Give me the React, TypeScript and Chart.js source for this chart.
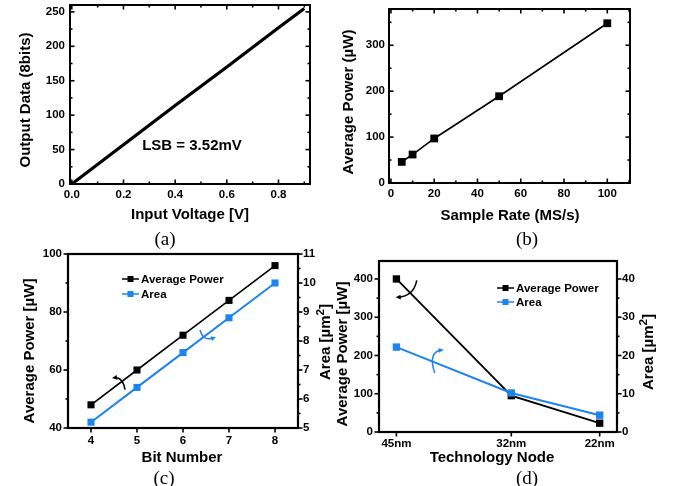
import React, { useEffect, useRef } from 'react';
import { Chart, registerables } from 'chart.js';

Chart.register(...registerables);

// ---------- (a) transfer curve ----------
const inputVoltage = [0, 0.2, 0.4, 0.6, 0.8, 0.9];
const outputCode = [0, 57, 114, 170, 227, 255];
const aXTicks = [0, 0.2, 0.4, 0.6, 0.8];
const aXMinor = [0.1, 0.3, 0.5, 0.7, 0.9];
const aYTicks = [0, 50, 100, 150, 200, 250];
const aYMinor = [25, 75, 125, 175, 225];

// ---------- (b) power vs sample rate ----------
const sampleRate = [5, 10, 20, 50, 100];
const powerVsRate = [46, 62, 97, 189, 348];
const bXTicks = [0, 20, 40, 60, 80, 100];
const bXMinor = [10, 30, 50, 70, 90, 110];
const bYTicks = [0, 100, 200, 300];
const bYMinor = [50, 150, 250, 350];

// ---------- (c) bit number ----------
const bitNumber = [4, 5, 6, 7, 8];
const powerVsBits = [48, 60, 72, 84, 96];
const areaVsBits = [5.2, 6.4, 7.6, 8.8, 10.0];
const cXTicks = [4, 5, 6, 7, 8];
const cYTicks = [40, 60, 80, 100];
const cYMinor = [50, 70, 90];
const cY1Ticks = [5, 6, 7, 8, 9, 10, 11];
const cY1Minor = [5.5, 6.5, 7.5, 8.5, 9.5, 10.5];

// ---------- (d) technology node ----------
const techNodeNm = [45, 32, 22];
const techNodeLabels = ['45nm', '32nm', '22nm'];
const powerVsNode = [400, 95, 23];
const areaVsNode = [22.2, 10.2, 4.4];
const dYTicks = [0, 100, 200, 300, 400];
const dYMinor = [50, 150, 250, 350];
const dY1Ticks = [0, 10, 20, 30, 40];
const dY1Minor = [5, 15, 25, 35];

const W = 675;
const H = 486;
const SANS = '"Liberation Sans", Arial, sans-serif';
const SERIF = '"Liberation Serif", "Times New Roman", serif';
const BLUE = 'rgb(28,132,236)';
const TICK_FONT = 11.5;
const TITLE_FONT = 15;
const YW = 45; // reserved width of a vertical scale box
const XH = 30; // reserved height of a horizontal scale box

function axis(o: any) {
  return {
    type: 'linear',
    position: o.pos,
    min: o.min,
    max: o.max,
    reverse: !!o.reverse,
    grid: { display: false, drawTicks: false },
    border: { display: false },
    title: { display: false },
    ticks: {
      autoSkip: false,
      maxRotation: 0,
      minRotation: 0,
      padding: o.padding,
      color: '#000',
      font: { family: SANS, size: TICK_FONT, weight: 'bold' },
      callback: (v: number) => (o.fmt ? o.fmt(v) : String(v)),
    },
    afterBuildTicks: (s: any) => {
      s.ticks = o.ticks.map((v: number) => ({ value: v }));
    },
    afterFit: (s: any) => {
      if (s.isHorizontal()) s.height = XH;
      else s.width = YW;
      s.paddingLeft = 0;
      s.paddingRight = 0;
      s.paddingTop = 0;
      s.paddingBottom = 0;
    },
  };
}

function drawRich(ctx: CanvasRenderingContext2D, parts: any[], x: number, y: number, rot: number, size: number, family = SANS, weight = 'bold') {
  ctx.save();
  ctx.translate(x, y);
  ctx.rotate(rot);
  const main = `${weight} ${size}px ${family}`;
  const sup = `${weight} ${size * 0.78}px ${family}`;
  let total = 0;
  const widths = parts.map((p) => {
    ctx.font = p.sup ? sup : main;
    const w = ctx.measureText(p.t).width;
    total += w;
    return w;
  });
  ctx.fillStyle = '#000';
  ctx.textAlign = 'left';
  ctx.textBaseline = 'alphabetic';
  let cx = -total / 2;
  const base = size * 0.36;
  parts.forEach((p, i) => {
    ctx.font = p.sup ? sup : main;
    ctx.fillText(p.t, cx, p.sup ? base - size * 0.45 : base);
    cx += widths[i];
  });
  ctx.restore();
}

const decorPlugin = {
  id: 'decor',
  afterDraw(chart: any, _args: any, opts: any) {
    const ctx: CanvasRenderingContext2D = chart.ctx;
    const a = chart.chartArea;
    ctx.save();
    // frame
    ctx.strokeStyle = '#000';
    ctx.lineWidth = opts.frameWidth || 2;
    ctx.lineCap = 'butt';
    ctx.strokeRect(a.left, a.top, a.right - a.left, a.bottom - a.top);
    // ticks
    (opts.tickSets || []).forEach((ts: any) => {
      const sc = chart.scales[ts.scale];
      const sign = ts.dir === 'in' ? 1 : -1;
      ctx.lineWidth = 1.6;
      const draw = (v: number, len: number) => {
        const p = sc.getPixelForValue(v);
        ctx.beginPath();
        if (ts.side === 'bottom') {
          ctx.moveTo(p, a.bottom);
          ctx.lineTo(p, a.bottom - sign * len);
        } else if (ts.side === 'top') {
          ctx.moveTo(p, a.top);
          ctx.lineTo(p, a.top + sign * len);
        } else if (ts.side === 'left') {
          ctx.moveTo(a.left, p);
          ctx.lineTo(a.left + sign * len, p);
        } else {
          ctx.moveTo(a.right, p);
          ctx.lineTo(a.right - sign * len, p);
        }
        ctx.stroke();
      };
      ts.major.forEach((v: number) => draw(v, 4.5));
      (ts.minor || []).forEach((v: number) => draw(v, 2.5));
    });
    // arrows (data coords)
    (opts.arrows || []).forEach((ar: any) => {
      const xs = chart.scales.x;
      const ys = chart.scales[ar.yScale || 'y'];
      const pts = ar.pts.map((p: number[]) => [xs.getPixelForValue(p[0]), ys.getPixelForValue(p[1])]);
      ctx.strokeStyle = ar.color;
      ctx.fillStyle = ar.color;
      ctx.lineWidth = 1.5;
      ctx.beginPath();
      ctx.moveTo(pts[0][0], pts[0][1]);
      ctx.quadraticCurveTo(pts[1][0], pts[1][1], pts[2][0], pts[2][1]);
      ctx.stroke();
      const ang = Math.atan2(pts[2][1] - pts[1][1], pts[2][0] - pts[1][0]);
      const L = 5.5;
      const tipX = pts[2][0] + Math.cos(ang) * 2;
      const tipY = pts[2][1] + Math.sin(ang) * 2;
      ctx.beginPath();
      ctx.moveTo(tipX, tipY);
      ctx.lineTo(tipX - L * Math.cos(ang - 0.45), tipY - L * Math.sin(ang - 0.45));
      ctx.lineTo(tipX - L * Math.cos(ang + 0.45), tipY - L * Math.sin(ang + 0.45));
      ctx.closePath();
      ctx.fill();
    });
    // legend
    (opts.legend || []).forEach((lg: any) => {
      ctx.strokeStyle = lg.color;
      ctx.fillStyle = lg.color;
      ctx.lineWidth = 1.5;
      ctx.beginPath();
      ctx.moveTo(lg.x, lg.y);
      ctx.lineTo(lg.x + 17, lg.y);
      ctx.stroke();
      ctx.fillRect(lg.x + 5.5, lg.y - 3, 6, 6);
      ctx.fillStyle = '#000';
      ctx.font = `bold 11.5px ${SANS}`;
      ctx.textAlign = 'left';
      ctx.textBaseline = 'middle';
      ctx.fillText(lg.label, lg.x + 19, lg.y + 0.5);
    });
    // titles
    (opts.titles || []).forEach((t: any) => {
      drawRich(ctx, t.parts, t.x, t.y, t.rot || 0, t.size || TITLE_FONT, t.family || SANS, t.weight || 'bold');
    });
    ctx.restore();
  },
};

function baseOptions(area: any, scales: any, decor: any, hasRight = false) {
  return {
    responsive: false,
    animation: false,
    events: [],
    layout: {
      padding: {
        left: area.l - YW,
        top: area.t,
        right: W - area.r - (hasRight ? YW : 0),
        bottom: H - area.b - XH,
      },
    },
    plugins: {
      legend: { display: false },
      tooltip: { enabled: false },
      title: { display: false },
      decor,
    },
    scales,
  };
}

const pts = (xs: number[], ys: number[]) => xs.map((x, i) => ({ x, y: ys[i] }));
const NEG90 = -Math.PI / 2;

function configA(): any {
  return {
    type: 'line',
    data: {
      datasets: [
        {
          data: pts(inputVoltage, outputCode),
          borderColor: '#000',
          borderWidth: 3.2,
          pointRadius: 0,
          tension: 0,
        },
      ],
    },
    options: baseOptions(
      { l: 70, t: 5, r: 310, b: 184 },
      {
        x: axis({ pos: 'bottom', min: -0.007, max: 0.922, ticks: aXTicks, padding: 4, fmt: (v: number) => v.toFixed(1) }),
        y: axis({ pos: 'left', min: 0, max: 260, ticks: aYTicks, padding: 5 }),
      },
      {
        frameWidth: 2,
        tickSets: [
          { scale: 'x', side: 'bottom', dir: 'in', major: aXTicks, minor: aXMinor },
          { scale: 'x', side: 'top', dir: 'in', major: aXTicks, minor: aXMinor },
          { scale: 'y', side: 'left', dir: 'in', major: aYTicks, minor: aYMinor },
          { scale: 'y', side: 'right', dir: 'in', major: aYTicks, minor: aYMinor },
        ],
        titles: [
          { parts: [{ t: 'Input Voltage [V]' }], x: 190, y: 214 },
          { parts: [{ t: 'Output Data (8bits)' }], x: 25, y: 100, rot: NEG90 },
          { parts: [{ t: 'LSB = 3.52mV' }], x: 192, y: 145 },
          { parts: [{ t: '(a)' }], x: 165, y: 238, size: 19, family: SERIF, weight: 'normal' },
        ],
      }
    ),
  };
}

function configB(): any {
  return {
    type: 'line',
    data: {
      datasets: [
        {
          data: pts(sampleRate, powerVsRate),
          borderColor: '#000',
          backgroundColor: '#000',
          borderWidth: 1.6,
          pointStyle: 'rect',
          pointRadius: 5.5,
          pointBorderWidth: 0,
          tension: 0,
        },
      ],
    },
    options: baseOptions(
      { l: 389, t: 9, r: 630, b: 183 },
      {
        x: axis({ pos: 'bottom', min: -0.9, max: 110.5, ticks: bXTicks, padding: 4 }),
        y: axis({ pos: 'left', min: 0, max: 379, ticks: bYTicks, padding: 4 }),
      },
      {
        frameWidth: 2,
        tickSets: [
          { scale: 'x', side: 'bottom', dir: 'in', major: bXTicks, minor: bXMinor },
          { scale: 'x', side: 'top', dir: 'in', major: bXTicks, minor: bXMinor },
          { scale: 'y', side: 'left', dir: 'in', major: bYTicks, minor: bYMinor },
          { scale: 'y', side: 'right', dir: 'in', major: bYTicks, minor: bYMinor },
        ],
        titles: [
          { parts: [{ t: 'Sample Rate (MS/s)' }], x: 510, y: 215 },
          { parts: [{ t: 'Average Power (µW)' }], x: 348, y: 102, rot: NEG90 },
          { parts: [{ t: '(b)' }], x: 527, y: 238, size: 19, family: SERIF, weight: 'normal' },
        ],
      }
    ),
  };
}

function configC(): any {
  return {
    type: 'line',
    data: {
      datasets: [
        {
          label: 'Average Power',
          data: pts(bitNumber, powerVsBits),
          yAxisID: 'y',
          borderColor: '#000',
          backgroundColor: '#000',
          borderWidth: 1.6,
          pointStyle: 'rect',
          pointRadius: 5,
          pointBorderWidth: 0,
          tension: 0,
          order: 1,
        },
        {
          label: 'Area',
          data: pts(bitNumber, areaVsBits),
          yAxisID: 'y1',
          borderColor: BLUE,
          backgroundColor: BLUE,
          borderWidth: 2,
          pointStyle: 'rect',
          pointRadius: 5,
          pointBorderWidth: 0,
          tension: 0,
          order: 0,
        },
      ],
    },
    options: baseOptions(
      { l: 68, t: 254, r: 298, b: 428 },
      {
        x: axis({ pos: 'bottom', min: 3.5, max: 8.5, ticks: cXTicks, padding: 6 }),
        y: axis({ pos: 'left', min: 40, max: 100, ticks: cYTicks, padding: 6 }),
        y1: axis({ pos: 'right', min: 5, max: 11, ticks: cY1Ticks, padding: 5 }),
      },
      {
        frameWidth: 2.2,
        tickSets: [
          { scale: 'x', side: 'bottom', dir: 'out', major: cXTicks },
          { scale: 'y', side: 'left', dir: 'out', major: cYTicks, minor: cYMinor },
          { scale: 'y1', side: 'right', dir: 'out', major: cY1Ticks, minor: cY1Minor },
        ],
        arrows: [
          { color: '#000', yScale: 'y', pts: [[4.739, 53.2], [4.696, 57.7], [4.5, 57.3]] },
          { color: BLUE, yScale: 'y', pts: [[6.37, 73.8], [6.435, 69.7], [6.674, 71.1]] },
        ],
        legend: [
          { label: 'Average Power', color: '#000', x: 122, y: 279 },
          { label: 'Area', color: BLUE, x: 122, y: 294 },
        ],
        titles: [
          { parts: [{ t: 'Bit Number' }], x: 182, y: 457 },
          { parts: [{ t: 'Average Power [µW]' }], x: 29, y: 351, rot: NEG90 },
          { parts: [{ t: 'Area [µm' }, { t: '2', sup: true }, { t: ']' }], x: 325, y: 342, rot: NEG90 },
          { parts: [{ t: '(c)' }], x: 164, y: 477, size: 19, family: SERIF, weight: 'normal' },
        ],
      },
      true
    ),
  };
}

function configD(): any {
  return {
    type: 'line',
    data: {
      datasets: [
        {
          label: 'Average Power',
          data: pts(techNodeNm, powerVsNode),
          yAxisID: 'y',
          borderColor: '#000',
          backgroundColor: '#000',
          borderWidth: 1.8,
          pointStyle: 'rect',
          pointRadius: 5.2,
          pointBorderWidth: 0,
          tension: 0,
          order: 1,
        },
        {
          label: 'Area',
          data: pts(techNodeNm, areaVsNode),
          yAxisID: 'y1',
          borderColor: BLUE,
          backgroundColor: BLUE,
          borderWidth: 2,
          pointStyle: 'rect',
          pointRadius: 5.2,
          pointBorderWidth: 0,
          tension: 0,
          order: 0,
        },
      ],
    },
    options: baseOptions(
      { l: 379, t: 261, r: 617, b: 432 },
      {
        x: axis({
          pos: 'bottom',
          min: 20.04,
          max: 46.97,
          reverse: true,
          ticks: techNodeNm,
          padding: 5,
          fmt: (v: number) => techNodeLabels[techNodeNm.indexOf(v)] ?? `${v}nm`,
        }),
        y: axis({ pos: 'left', min: 0, max: 447, ticks: dYTicks, padding: 6 }),
        y1: axis({ pos: 'right', min: 0, max: 44.7, ticks: dY1Ticks, padding: 5 }),
      },
      {
        frameWidth: 2.2,
        tickSets: [
          { scale: 'x', side: 'bottom', dir: 'out', major: techNodeNm },
          { scale: 'y', side: 'left', dir: 'out', major: dYTicks, minor: dYMinor },
          { scale: 'y1', side: 'right', dir: 'out', major: dY1Ticks, minor: dY1Minor },
        ],
        arrows: [
          { color: '#000', yScale: 'y', pts: [[42.7, 396.6], [43.04, 354.9], [44.85, 352.3]] },
          { color: BLUE, yScale: 'y', pts: [[40.67, 154.4], [41.46, 209.1], [39.88, 214.3]] },
        ],
        legend: [
          { label: 'Average Power', color: '#000', x: 497, y: 288 },
          { label: 'Area', color: BLUE, x: 497, y: 302 },
        ],
        titles: [
          { parts: [{ t: 'Technology Node' }], x: 492, y: 457 },
          { parts: [{ t: 'Average Power [µW]' }], x: 342, y: 354, rot: NEG90 },
          { parts: [{ t: 'Area [µm' }, { t: '2', sup: true }, { t: ']' }], x: 648, y: 352, rot: NEG90 },
          { parts: [{ t: '(d)' }], x: 527, y: 477, size: 19, family: SERIF, weight: 'normal' },
        ],
      },
      true
    ),
  };
}

function ChartLayer({ make }: { make: () => any }) {
  const ref = useRef<HTMLCanvasElement | null>(null);
  useEffect(() => {
    if (!ref.current) return;
    const cfg = make();
    cfg.plugins = [decorPlugin];
    const chart = new Chart(ref.current, cfg);
    return () => chart.destroy();
  }, [make]);
  return (
    <canvas
      ref={ref}
      width={W}
      height={H}
      style={{ position: 'absolute', left: 0, top: 0, width: W, height: H }}
    />
  );
}

export default function App() {
  useEffect(() => {
    document.body.style.margin = '0';
  }, []);
  return (
    <div style={{ position: 'absolute', left: 0, top: 0, width: W, height: H, background: '#fff', overflow: 'hidden' }}>
      <ChartLayer make={configA} />
      <ChartLayer make={configB} />
      <ChartLayer make={configC} />
      <ChartLayer make={configD} />
    </div>
  );
}
